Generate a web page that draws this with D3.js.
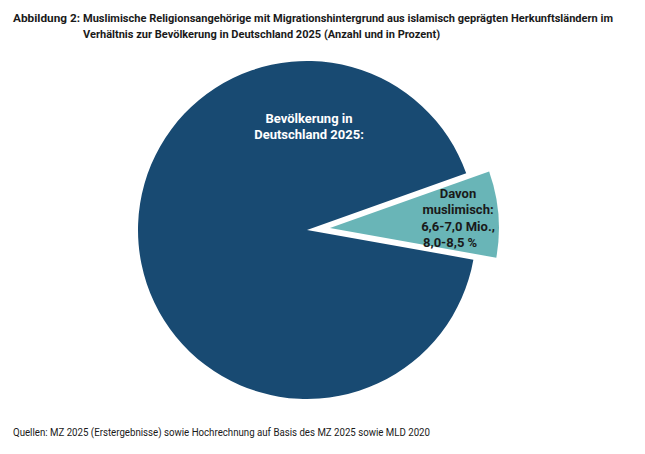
<!DOCTYPE html>
<html>
<head>
<meta charset="utf-8">
<script src="https://cdn.jsdelivr.net/npm/d3@7"></script>
<style>
  body { margin: 0; background: #fff; }
  svg { display: block; font-family: Roboto, "Noto Sans", sans-serif; }
</style>
</head>
<body>
<div id="graf"></div>
<script>
// datos del gráfico
var categorias = ['Bevölkerung in Deutschland 2025', 'Davon muslimisch']
var valores = [91.75, 8.25]
var etiquetaGrande = ['Bevölkerung in', 'Deutschland 2025:']
var etiquetaChica = ['Davon', 'muslimisch:', '6,6-7,0 Mio.,', '8,0-8,5 %']
var tituloNum = 'Abbildung 2:'
var tituloLineas = ['Muslimische Religionsangehörige mit Migrationshintergrund aus islamisch geprägten Herkunftsländern im',
                    'Verhältnis zur Bevölkerung in Deutschland 2025 (Anzahl und in Prozent)']
var quelle = 'Quellen: MZ 2025 (Erstergebnisse) sowie Hochrechnung auf Basis des MZ 2025 sowie MLD 2020'

var ancho_total = 645, alto_total = 454
var cx = 307, cy = 230, radio = 169, explode = 23
var colores = ['#184a72', '#69b5b7']

var svg = d3.select('#graf').append('svg')
  .attr('width', ancho_total)
  .attr('height', alto_total)

// título (ancho de línea ajustado al de la fuente original, más angosta)
var anchosTitulo = [530, 357]
var titulo = svg.append('g').attr('font-weight', 700).attr('font-size', '11.5px').attr('fill', '#1a1a1a')
titulo.append('text')
  .attr('x', 13).attr('y', 22)
  .attr('textLength', 67).attr('lengthAdjust', 'spacingAndGlyphs')
  .text(tituloNum)
titulo.selectAll('text.linea')
  .data(tituloLineas)
  .enter().append('text')
    .attr('class', 'linea')
    .attr('x', 83)
    .attr('y', (d, i) => 22 + i * 16)
    .attr('textLength', (d, i) => anchosTitulo[i])
    .attr('lengthAdjust', 'spacingAndGlyphs')
    .text(d => d)

// pastel
var datos = categorias.map((c, i) => ({ cat: c, val: valores[i] }))
var rad = Math.PI / 180
var pie = d3.pie()
  .sort(null)
  .value(d => d.val)
  .startAngle(70.4 * rad)
  .endAngle(430.4 * rad)

// el segmento chico va primero para que empiece a la derecha
var arcos = pie([datos[1], datos[0]])
var arc = d3.arc().innerRadius(0).outerRadius(radio)

var g = svg.append('g').attr('transform', `translate(${cx}, ${cy})`)

g.selectAll('path')
  .data(arcos)
  .enter().append('path')
    .attr('d', arc)
    .attr('fill', d => colores[categorias.indexOf(d.data.cat)])
    .attr('transform', d => {
      if (d.data.cat !== categorias[1]) return null
      var a = (d.startAngle + d.endAngle) / 2
      return `translate(${explode * Math.sin(a)}, ${-explode * Math.cos(a)})`
    })

// etiqueta del segmento grande
g.append('g')
  .attr('font-weight', 700).attr('font-size', '13px').attr('fill', '#fff')
  .attr('text-anchor', 'middle')
  .selectAll('text')
  .data(etiquetaGrande)
  .enter().append('text')
    .attr('x', 2)
    .attr('y', (d, i) => -107 + i * 16)
    .text(d => d)

// etiqueta del segmento chico
g.append('g')
  .attr('font-weight', 700).attr('font-size', '13px').attr('fill', '#1a1a1a')
  .selectAll('text')
  .data(etiquetaChica)
  .enter().append('text')
    .attr('text-anchor', (d, i) => i < 3 ? 'middle' : 'start')
    .attr('x', (d, i) => i < 3 ? 151 : 116)
    .attr('y', (d, i) => -32 + i * 16.3)
    .text(d => d)

// fuente
svg.append('text')
  .attr('x', 13).attr('y', 436)
  .attr('font-size', '10.5px').attr('fill', '#1a1a1a')
  .attr('textLength', 417).attr('lengthAdjust', 'spacingAndGlyphs')
  .text(quelle)
</script>
</body>
</html>
